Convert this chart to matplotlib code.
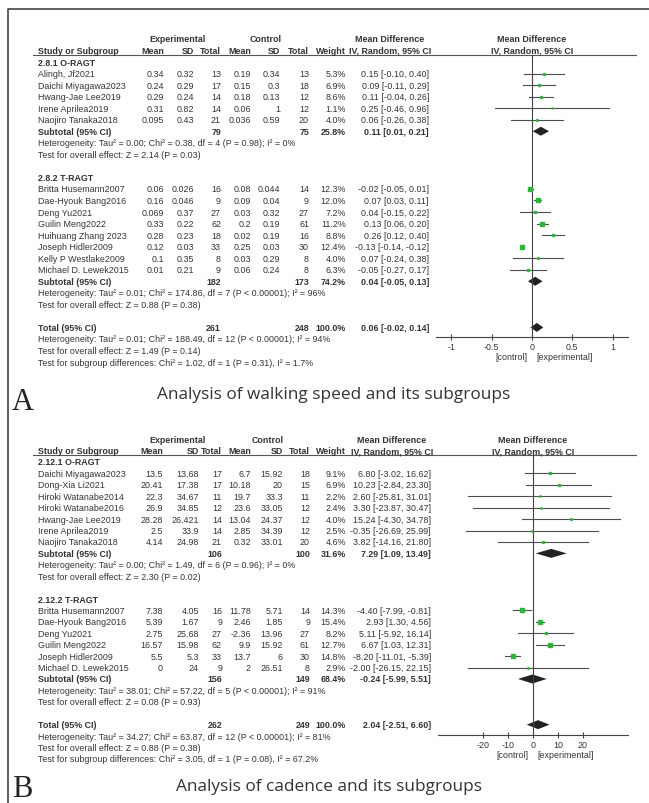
import matplotlib
matplotlib.use("Agg")
import matplotlib.pyplot as plt

plt.rcParams["font.family"] = ["Liberation Sans", "DejaVu Sans"]
plt.rcParams["axes.unicode_minus"] = False

W, H = 649, 804
TXT = "#333333"
GREEN = "#2fb33c"
LINE = "#4d4d4d"

# ---------------- Panel A: walking speed ----------------
a_groups = ["2.8.1 O-RAGT", "2.8.2 T-RAGT"]
a_group_of = [0, 0, 0, 0, 0, 1, 1, 1, 1, 1, 1, 1, 1]
a_study = ["Alingh, Jf2021", "Daichi Miyagawa2023", "Hwang-Jae Lee2019", "Irene Aprilea2019",
           "Naojiro Tanaka2018", "Britta Husemann2007", "Dae-Hyouk Bang2016", "Deng Yu2021",
           "Guilin Meng2022", "Huihuang Zhang 2023", "Joseph Hidler2009", "Kelly P Westlake2009",
           "Michael D. Lewek2015"]
a_exp_mean = [0.34, 0.24, 0.29, 0.31, 0.095, 0.06, 0.16, 0.069, 0.33, 0.28, 0.12, 0.1, 0.01]
a_exp_sd = [0.32, 0.29, 0.24, 0.82, 0.43, 0.026, 0.046, 0.37, 0.22, 0.23, 0.03, 0.35, 0.21]
a_exp_n = [13, 17, 14, 14, 21, 16, 9, 27, 62, 18, 33, 8, 9]
a_ctl_mean = [0.19, 0.15, 0.18, 0.06, 0.036, 0.08, 0.09, 0.03, 0.2, 0.02, 0.25, 0.03, 0.06]
a_ctl_sd = [0.34, 0.3, 0.13, 1, 0.59, 0.044, 0.04, 0.32, 0.19, 0.19, 0.03, 0.29, 0.24]
a_ctl_n = [13, 18, 12, 12, 20, 14, 9, 27, 61, 16, 30, 8, 8]
a_weight = [5.3, 6.9, 8.6, 1.1, 4.0, 12.3, 12.0, 7.2, 11.2, 8.8, 12.4, 4.0, 6.3]
a_md = [0.15, 0.09, 0.11, 0.25, 0.06, -0.02, 0.07, 0.04, 0.13, 0.26, -0.13, 0.07, -0.05]
a_lo = [-0.10, -0.11, -0.04, -0.46, -0.26, -0.05, 0.03, -0.15, 0.06, 0.12, -0.14, -0.24, -0.27]
a_hi = [0.40, 0.29, 0.26, 0.96, 0.38, 0.01, 0.11, 0.22, 0.20, 0.40, -0.12, 0.38, 0.17]
a_sub_exp_n = [79, 182]
a_sub_ctl_n = [75, 173]
a_sub_weight = [25.8, 74.2]
a_sub_md = [0.11, 0.04]
a_sub_lo = [0.01, -0.05]
a_sub_hi = [0.21, 0.13]
a_sub_het = ["Heterogeneity: Tau\u00b2 = 0.00; Chi\u00b2 = 0.38, df = 4 (P = 0.98); I\u00b2 = 0%",
             "Heterogeneity: Tau\u00b2 = 0.01; Chi\u00b2 = 174.86, df = 7 (P < 0.00001); I\u00b2 = 96%"]
a_sub_test = ["Test for overall effect: Z = 2.14 (P = 0.03)",
              "Test for overall effect: Z = 0.88 (P = 0.38)"]
a_tot = [261, 248, 100.0, 0.06, -0.02, 0.14]
a_tot_notes = ["Heterogeneity: Tau\u00b2 = 0.01; Chi\u00b2 = 188.49, df = 12 (P < 0.00001); I\u00b2 = 94%",
               "Test for overall effect: Z = 1.49 (P = 0.14)",
               "Test for subgroup differences: Chi\u00b2 = 1.02, df = 1 (P = 0.31), I\u00b2 = 1.7%"]
a_ticks = [-1, -0.5, 0, 0.5, 1]
a_ticklabels = ["-1", "-0.5", "0", "0.5", "1"]

# ---------------- Panel B: cadence ----------------
b_groups = ["2.12.1 O-RAGT", "2.12.2 T-RAGT"]
b_group_of = [0, 0, 0, 0, 0, 0, 0, 1, 1, 1, 1, 1, 1]
b_study = ["Daichi Miyagawa2023", "Dong-Xia Li2021", "Hiroki Watanabe2014", "Hiroki Watanabe2016",
           "Hwang-Jae Lee2019", "Irene Aprilea2019", "Naojiro Tanaka2018", "Britta Husemann2007",
           "Dae-Hyouk Bang2016", "Deng Yu2021", "Guilin Meng2022", "Joseph Hidler2009",
           "Michael D. Lewek2015"]
b_exp_mean = [13.5, 20.41, 22.3, 26.9, 28.28, 2.5, 4.14, 7.38, 5.39, 2.75, 16.57, 5.5, 0]
b_exp_sd = [13.68, 17.38, 34.67, 34.85, 26.421, 33.9, 24.98, 4.05, 1.67, 25.68, 15.98, 5.3, 24]
b_exp_n = [17, 17, 11, 12, 14, 14, 21, 16, 9, 27, 62, 33, 9]
b_ctl_mean = [6.7, 10.18, 19.7, 23.6, 13.04, 2.85, 0.32, 11.78, 2.46, -2.36, 9.9, 13.7, 2]
b_ctl_sd = [15.92, 20, 33.3, 33.05, 24.37, 34.39, 33.01, 5.71, 1.85, 13.96, 15.92, 6, 26.51]
b_ctl_n = [18, 15, 11, 12, 12, 12, 20, 14, 9, 27, 61, 30, 8]
b_weight = [9.1, 6.9, 2.2, 2.4, 4.0, 2.5, 4.6, 14.3, 15.4, 8.2, 12.7, 14.8, 2.9]
b_md = [6.80, 10.23, 2.60, 3.30, 15.24, -0.35, 3.82, -4.40, 2.93, 5.11, 6.67, -8.20, -2.00]
b_lo = [-3.02, -2.84, -25.81, -23.87, -4.30, -26.69, -14.16, -7.99, 1.30, -5.92, 1.03, -11.01, -26.15]
b_hi = [16.62, 23.30, 31.01, 30.47, 34.78, 25.99, 21.80, -0.81, 4.56, 16.14, 12.31, -5.39, 22.15]
b_sub_exp_n = [106, 156]
b_sub_ctl_n = [100, 149]
b_sub_weight = [31.6, 68.4]
b_sub_md = [7.29, -0.24]
b_sub_lo = [1.09, -5.99]
b_sub_hi = [13.49, 5.51]
b_sub_het = ["Heterogeneity: Tau\u00b2 = 0.00; Chi\u00b2 = 1.49, df = 6 (P = 0.96); I\u00b2 = 0%",
             "Heterogeneity: Tau\u00b2 = 38.01; Chi\u00b2 = 57.22, df = 5 (P < 0.00001); I\u00b2 = 91%"]
b_sub_test = ["Test for overall effect: Z = 2.30 (P = 0.02)",
              "Test for overall effect: Z = 0.08 (P = 0.93)"]
b_tot = [262, 249, 100.0, 2.04, -2.51, 6.60]
b_tot_notes = ["Heterogeneity: Tau\u00b2 = 34.27; Chi\u00b2 = 63.87, df = 12 (P < 0.00001); I\u00b2 = 81%",
               "Test for overall effect: Z = 0.88 (P = 0.38)",
               "Test for subgroup differences: Chi\u00b2 = 3.05, df = 1 (P = 0.08), I\u00b2 = 67.2%"]
b_ticks = [-20, -10, 0, 10, 20]
b_ticklabels = ["-20", "-10", "0", "10", "20"]


def ci_text(m, lo, hi):
    return f"{m:.2f} [{lo:.2f}, {hi:.2f}]"


def draw_panel(fig, canvas, d, lay):
    fs = 6.4
    cols = lay["cols"]  # right edges: exp mean, sd, n, ctl mean, sd, n, weight, ci
    name_x = 38

    def txt(x, y, s, ha="left", bold=False):
        canvas.text(x, y, s, ha=ha, va="center", fontsize=fs, color=TXT,
                    fontweight="bold" if bold else "normal")

    # column headers
    hy = lay["head_y"]
    txt(lay["exp_c"], hy, "Experimental", "center", True)
    txt(lay["ctl_c"], hy, "Control", "center", True)
    txt(lay["md_c"], hy, "Mean Difference", "center", True)
    txt(lay["fp_c"], hy, "Mean Difference", "center", True)
    hy2 = hy + 11
    txt(name_x, hy2, "Study or Subgroup", bold=True)
    for x, s in zip(cols[:7], ["Mean", "SD", "Total", "Mean", "SD", "Total", "Weight"]):
        txt(x, hy2, s, "right", True)
    txt(lay["md_c"], hy2, "IV, Random, 95% CI", "center", True)
    txt(lay["fp_c"], hy2, "IV, Random, 95% CI", "center", True)
    canvas.plot([33, 636], [lay["line_y"], lay["line_y"]], color="#555555", lw=0.8)

    # forest axes, y in the same pixel units as the canvas
    x0, x1 = lay["fp_x"]
    ax = fig.add_axes([x0 / W, 1 - lay["axis_y"] / H, (x1 - x0) / W,
                       (lay["axis_y"] - lay["line_y"]) / H])
    ax.set_xlim(lay["xlim"])
    ax.set_ylim(lay["axis_y"], lay["line_y"])
    ax.patch.set_visible(False)
    for s in ["top", "left", "right"]:
        ax.spines[s].set_visible(False)
    ax.spines["bottom"].set_color("#444444")
    ax.spines["bottom"].set_linewidth(0.8)
    ax.set_yticks([])
    ax.set_xticks(d["ticks"])
    ax.set_xticklabels(d["ticklabels"])
    ax.tick_params(axis="x", direction="inout", length=5, width=0.8, color="#444444",
                   labelsize=fs, labelcolor=TXT, pad=1)
    ax.axvline(0, color="#444444", lw=0.8)
    ax.annotate("[control]", xy=(0, 0), xycoords=("data", "axes fraction"),
                xytext=(-3, -14), textcoords="offset points", ha="right", va="center",
                fontsize=fs, color=TXT)
    ax.annotate("[experimental]", xy=(0, 0), xycoords=("data", "axes fraction"),
                xytext=(3, -14), textcoords="offset points", ha="left", va="center",
                fontsize=fs, color=TXT)

    def diamond(y, m, lo, hi):
        ax.fill([lo, m, hi, m], [y, y - 4.5, y, y + 4.5], color="#222222", lw=0)

    k = 0
    y0, step = lay["y0"], lay["step"]
    for g, gname in enumerate(d["groups"]):
        txt(name_x, y0 + k * step, gname, bold=True)
        k += 1
        for i, gi in enumerate(d["group_of"]):
            if gi != g:
                continue
            y = y0 + k * step
            txt(name_x, y, d["study"][i])
            vals = [d["exp_mean"][i], d["exp_sd"][i], d["exp_n"][i],
                    d["ctl_mean"][i], d["ctl_sd"][i], d["ctl_n"][i]]
            for x, v in zip(cols[:6], vals):
                txt(x, y, f"{v:g}", "right")
            txt(cols[6], y, f"{d['weight'][i]:.1f}%", "right")
            txt(cols[7], y, ci_text(d["md"][i], d["lo"][i], d["hi"][i]), "right")
            ax.plot([d["lo"][i], d["hi"][i]], [y, y], color=LINE, lw=0.8)
            ax.plot(d["md"][i], y, marker="s", ms=0.5 + 0.16 * d["weight"][i],
                    color=GREEN, mec=GREEN, lw=0)
            k += 1
        y = y0 + k * step
        txt(name_x, y, "Subtotal (95% CI)", bold=True)
        txt(cols[2], y, str(d["sub_exp_n"][g]), "right", True)
        txt(cols[5], y, str(d["sub_ctl_n"][g]), "right", True)
        txt(cols[6], y, f"{d['sub_weight'][g]:.1f}%", "right", True)
        txt(cols[7], y, ci_text(d["sub_md"][g], d["sub_lo"][g], d["sub_hi"][g]), "right", True)
        diamond(y, d["sub_md"][g], d["sub_lo"][g], d["sub_hi"][g])
        k += 1
        txt(name_x, y0 + k * step, d["sub_het"][g])
        k += 1
        txt(name_x, y0 + k * step, d["sub_test"][g])
        k += 2

    en, cn, w, m, lo, hi = d["tot"]
    y = y0 + k * step
    txt(name_x, y, "Total (95% CI)", bold=True)
    txt(cols[2], y, str(en), "right", True)
    txt(cols[5], y, str(cn), "right", True)
    txt(cols[6], y, f"{w:.1f}%", "right", True)
    txt(cols[7], y, ci_text(m, lo, hi), "right", True)
    diamond(y, m, lo, hi)
    for note in d["tot_notes"]:
        k += 1
        txt(name_x, y0 + k * step, note)

    # panel letter and caption
    canvas.text(12, lay["letter_base"], lay["letter"], ha="left", va="baseline",
                fontsize=22, family="Liberation Serif", color="#222222")
    canvas.text(lay["title_x"], lay["title_y"], lay["title"], ha="left", va="center",
                fontsize=12.4, family="Open Sans", color="#333333")


fig = plt.figure(figsize=(W / 100, H / 100), dpi=100)
canvas = fig.add_axes([0, 0, 1, 1])
canvas.set_xlim(0, W)
canvas.set_ylim(H, 0)
canvas.axis("off")

# outer frame
canvas.plot([8, 8, W], [H, 10, 10], color="#444444", lw=1.2)

panel_a = dict(groups=a_groups, group_of=a_group_of, study=a_study, exp_mean=a_exp_mean,
               exp_sd=a_exp_sd, exp_n=a_exp_n, ctl_mean=a_ctl_mean, ctl_sd=a_ctl_sd,
               ctl_n=a_ctl_n, weight=a_weight, md=a_md, lo=a_lo, hi=a_hi,
               sub_exp_n=a_sub_exp_n, sub_ctl_n=a_sub_ctl_n, sub_weight=a_sub_weight,
               sub_md=a_sub_md, sub_lo=a_sub_lo, sub_hi=a_sub_hi, sub_het=a_sub_het,
               sub_test=a_sub_test, tot=a_tot, tot_notes=a_tot_notes,
               ticks=a_ticks, ticklabels=a_ticklabels)
panel_b = dict(groups=b_groups, group_of=b_group_of, study=b_study, exp_mean=b_exp_mean,
               exp_sd=b_exp_sd, exp_n=b_exp_n, ctl_mean=b_ctl_mean, ctl_sd=b_ctl_sd,
               ctl_n=b_ctl_n, weight=b_weight, md=b_md, lo=b_lo, hi=b_hi,
               sub_exp_n=b_sub_exp_n, sub_ctl_n=b_sub_ctl_n, sub_weight=b_sub_weight,
               sub_md=b_sub_md, sub_lo=b_sub_lo, sub_hi=b_sub_hi, sub_het=b_sub_het,
               sub_test=b_sub_test, tot=b_tot, tot_notes=b_tot_notes,
               ticks=b_ticks, ticklabels=b_ticklabels)

lay_a = dict(head_y=40, line_y=55.5, y0=63, step=11.54, axis_y=338,
             cols=[164, 194, 221, 251, 280, 309, 346, 429],
             exp_c=178, ctl_c=266, md_c=390, fp_c=532, fp_x=(436, 628), xlim=(-1.19, 1.19),
             letter="A", letter_base=410, title="Analysis of walking speed and its subgroups",
             title_x=157, title_y=395)
lay_b = dict(head_y=441, line_y=456, y0=463, step=11.42, axis_y=736,
             cols=[163, 199, 222, 251, 283, 310, 346, 431],
             exp_c=178, ctl_c=268, md_c=392, fp_c=533, fp_x=(438, 628), xlim=(-38, 38),
             letter="B", letter_base=797, title="Analysis of cadence and its subgroups",
             title_x=176, title_y=787)

draw_panel(fig, canvas, panel_a, lay_a)
draw_panel(fig, canvas, panel_b, lay_b)

fig.savefig("out.png", dpi=100)
